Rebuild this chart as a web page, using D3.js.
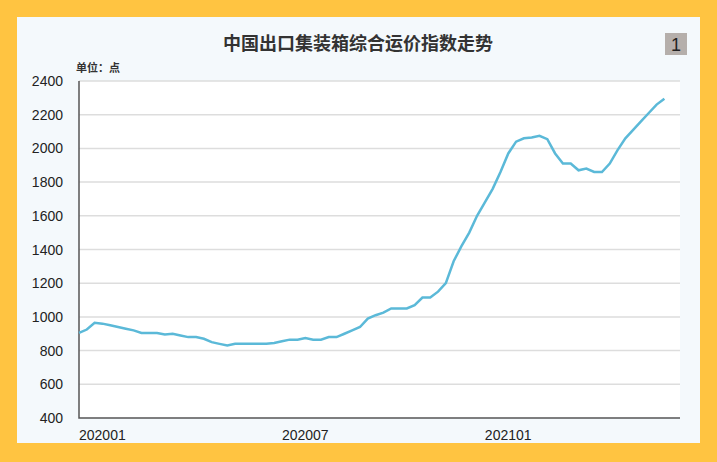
<!DOCTYPE html>
<html><head><meta charset="utf-8">
<script src="https://cdn.jsdelivr.net/npm/d3@7"></script>
<style>body{margin:0;background:#FFC441;}</style></head>
<body><div id="chart"></div>
<script>
const values = [905,925,965,960,950,940,930,920,905,905,905,895,900,890,880,880,870,850,840,830,
  840,840,840,840,840,845,855,865,865,875,865,865,880,880,900,920,940,990,1010,1025,
  1050,1050,1050,1070,1115,1115,1150,1200,1330,1420,1500,1600,1680,1760,1860,1970,2040,2060,2065,2075,
  2055,1970,1910,1910,1870,1880,1860,1860,1910,1990,2060,2110,2160,2210,2260,2295];
const xTicks = [0, 26, 52];
const xTickLabels = ["202001", "202007", "202101"];
const yTicks = [400,600,800,1000,1200,1400,1600,1800,2000,2200,2400];

const W = 717, H = 462;
const svg = d3.select("#chart").append("svg").attr("width", W).attr("height", H);
svg.append("rect").attr("width", W).attr("height", H).attr("fill", "#FFC441");
svg.append("rect").attr("x", 17).attr("y", 17).attr("width", 683).attr("height", 426).attr("fill", "#F4F9FC");

const x = d3.scaleLinear().domain([0, 77]).range([79, 680]);
const y = d3.scaleLinear().domain([400, 2400]).range([418, 81]);
const font = "Liberation Sans, Arial, sans-serif";

svg.append("rect").attr("x", 79).attr("y", 81).attr("width", 601).attr("height", 337).attr("fill", "#fff");

svg.append("g").selectAll("line").data(yTicks.slice(1)).enter().append("line")
  .attr("x1", 79).attr("x2", 680).attr("y1", d => y(d)).attr("y2", d => y(d))
  .attr("stroke", "#ddd").attr("stroke-width", 1.5);

svg.append("g").selectAll("text").data(yTicks).enter().append("text")
  .attr("x", 63).attr("y", d => y(d) + 5).attr("text-anchor", "end")
  .attr("font-family", font).attr("font-size", 14).attr("fill", "#222").text(d => d);

svg.append("g").selectAll("text").data(xTicks).enter().append("text")
  .attr("x", d => x(d)).attr("y", 440)
  .attr("font-family", font).attr("font-size", 14).attr("fill", "#222").text((d, i) => xTickLabels[i]);

svg.append("path").attr("d", `M79,81V418H680`).attr("fill", "none").attr("stroke", "#555").attr("stroke-width", 1.5);

svg.append("path").datum(values)
  .attr("d", d3.line().x((d, i) => x(i)).y(d => y(d)))
  .attr("fill", "none").attr("stroke", "#5BB9D8").attr("stroke-width", 2.5);

svg.append("text").attr("x", 358).attr("y", 50).attr("text-anchor", "middle")
  .attr("font-family", "Noto Sans CJK SC").attr("font-weight", "bold").attr("font-size", 18)
  .attr("fill", "#333").text("中国出口集装箱综合运价指数走势");
svg.append("text").attr("x", 76).attr("y", 72)
  .attr("font-family", "Noto Sans CJK SC").attr("font-weight", "bold").attr("font-size", 11)
  .attr("fill", "#333").text("单位：点");
svg.append("rect").attr("x", 665).attr("y", 33).attr("width", 22).attr("height", 22).attr("fill", "#B5AFAB");
svg.append("text").attr("x", 676).attr("y", 51).attr("text-anchor", "middle")
  .attr("font-family", font).attr("font-size", 18).attr("fill", "#222").text("1");
</script></body></html>
